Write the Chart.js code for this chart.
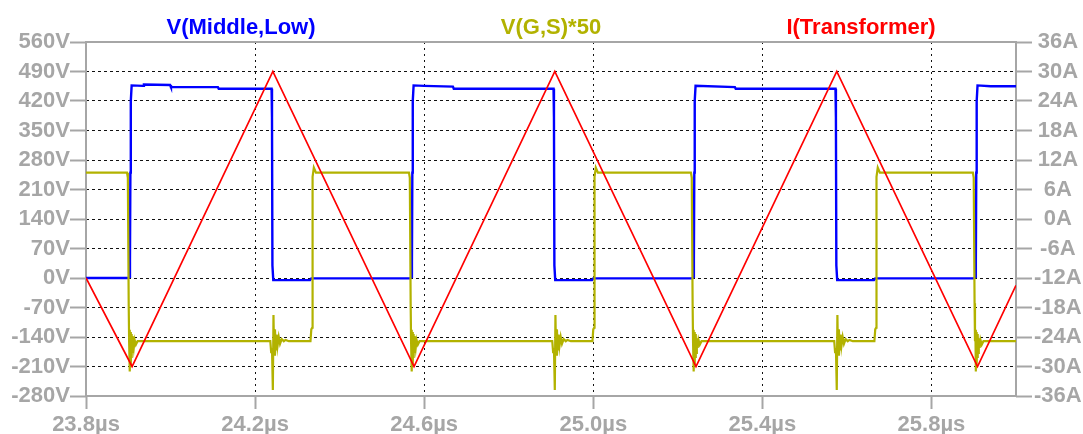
<!DOCTYPE html>
<html>
<head>
<meta charset="utf-8">
<script src="https://cdn.jsdelivr.net/npm/chart.js@4/dist/chart.umd.min.js"></script>
<style>
    html, body { margin: 0; padding: 0; background: #ffffff; }
</style>
</head>
<body>
<canvas id="scope" width="1083" height="434"></canvas>
<script>
/* trace names and colours */
var seriesNames = ["V(Middle,Low)", "V(G,S)*50", "I(Transformer)"];
var seriesColors = ["rgb(0,0,255)", "rgb(178,178,0)", "rgb(255,0,0)"];

/* axis ticks */
var xTicks = [23.8, 24.2, 24.6, 25.0, 25.4, 25.8];
var vTicks = [560, 490, 420, 350, 280, 210, 140, 70, 0, -70, -140, -210, -280];
var iTicks = [36, 30, 24, 18, 12, 6, 0, -6, -12, -18, -24, -30, -36];

/* V(Middle,Low) in V, time in us */
var midT = [23.800, 23.900, 23.903, 23.904, 23.905, 23.906, 23.908, 23.935, 23.937, 23.999, 24.001, 24.112, 24.114, 24.239, 24.240, 24.241, 24.243, 24.330, 24.333,
            24.567, 24.570, 24.571, 24.572, 24.573, 24.575, 24.600, 24.668, 24.670, 24.906, 24.907, 24.908, 24.910, 24.997, 25.000,
            25.234, 25.237, 25.238, 25.239, 25.240, 25.242, 25.335, 25.337, 25.573, 25.574, 25.575, 25.577, 25.664, 25.667,
            25.901, 25.904, 25.905, 25.906, 25.907, 25.909, 25.940, 26.000];
var midV = [0, 0, 3, 40, 250, 420, 457, 456, 459, 458, 453, 453, 449, 449, 380, 30, -5, -5, -1,
            -1, 3, 40, 250, 420, 457, 456, 454, 449, 449, 380, 30, -5, -5, -1,
            -1, 3, 40, 250, 420, 456, 453, 449, 449, 380, 30, -5, -5, -1,
            -1, 3, 40, 250, 420, 457, 455, 455];

/* V(G,S)*50 in V */
var gateT = [23.800, 23.897, 23.899, 23.901, 23.902, 23.903, 23.904, 23.905, 23.906, 23.907, 23.908, 23.909, 23.910, 23.911, 23.913, 23.915, 23.918, 23.922,
             24.236, 24.238, 24.240, 24.242, 24.2435, 24.245, 24.247, 24.249, 24.251, 24.253, 24.256, 24.259, 24.263, 24.268, 24.272, 24.280,
             24.331, 24.333, 24.335, 24.336, 24.339, 24.344,
             24.564, 24.566, 24.568, 24.569, 24.570, 24.571, 24.572, 24.573, 24.574, 24.575, 24.576, 24.577, 24.578, 24.580, 24.582, 24.585, 24.589,
             24.903, 24.905, 24.907, 24.909, 24.9105, 24.912, 24.914, 24.916, 24.918, 24.920, 24.923, 24.926, 24.930, 24.935, 24.939, 24.947,
             24.998, 25.000, 25.002, 25.003, 25.006, 25.011,
             25.231, 25.233, 25.235, 25.236, 25.237, 25.238, 25.239, 25.240, 25.241, 25.242, 25.243, 25.244, 25.245, 25.247, 25.249, 25.252, 25.256,
             25.570, 25.572, 25.574, 25.576, 25.5775, 25.579, 25.581, 25.583, 25.585, 25.587, 25.590, 25.593, 25.597, 25.602, 25.606, 25.614,
             25.665, 25.667, 25.669, 25.670, 25.673, 25.678,
             25.898, 25.900, 25.902, 25.903, 25.904, 25.905, 25.906, 25.907, 25.908, 25.909, 25.910, 25.911, 25.912, 25.914, 25.916, 25.919, 25.923, 26.000];
var gateV = [250, 250, 238, -60, -150, -123, -222, -128, -205, -133, -190, -138, -178, -143, -166, -147, -158, -150,
             -150, -176, -166, -266, -88, -182, -122, -172, -134, -162, -140, -156, -145, -150, -147, -150,
             -150, -122, -118, 240, 262, 250,
             250, 238, -60, -150, -123, -222, -128, -205, -133, -190, -138, -178, -143, -166, -147, -158, -150,
             -150, -176, -166, -266, -88, -182, -122, -172, -134, -162, -140, -156, -145, -150, -147, -150,
             -150, -122, -118, 240, 262, 250,
             250, 238, -60, -150, -123, -222, -128, -205, -133, -190, -138, -178, -143, -166, -147, -158, -150,
             -150, -176, -166, -266, -88, -182, -122, -172, -134, -162, -140, -156, -145, -150, -147, -150,
             -150, -122, -118, 240, 262, 250,
             250, 238, -60, -150, -123, -222, -128, -205, -133, -190, -138, -178, -143, -166, -147, -158, -150, -150];

/* I(Transformer) in A */
var currT = [23.800, 23.909, 24.242, 24.576, 24.909, 25.243, 25.576, 25.909, 26.000];
var currI = [-12, -30, 30, -30, 30, -30, 30, -30, -13.5];

var axisGray = "rgb(166,166,166)";
var labelFont = { family: '"Liberation Sans", Arial, sans-serif', size: 22, weight: "bold" };

function toPoints(ts, vs) {
    var pts = [];
    for (var i = 0; i < ts.length; ++i) {
        pts.push({ x: ts[i], y: vs[i] });
    }
    return pts;
}

function setTicks(values) {
    return function (scale) {
        scale.ticks = values.map(function (v) { return { value: v }; });
    };
}

/* grey frame round the plot, under the traces */
var framePlugin = {
    id: "frame",
    beforeDatasetsDraw: function (chart) {
        var a = chart.chartArea;
        var ctx = chart.ctx;
        ctx.save();
        ctx.strokeStyle = axisGray;
        ctx.lineWidth = 2;
        ctx.strokeRect(a.left, a.top, a.right - a.left, a.bottom - a.top);
        ctx.restore();
    }
};

/* trace names above the plot, in trace colours */
var namesPlugin = {
    id: "names",
    afterDraw: function (chart) {
        var a = chart.chartArea;
        var ctx = chart.ctx;
        var w = a.right - a.left;
        ctx.save();
        ctx.font = "bold 22px \"Liberation Sans\", Arial, sans-serif";
        ctx.textAlign = "center";
        ctx.textBaseline = "middle";
        for (var i = 0; i < seriesNames.length; ++i) {
            ctx.fillStyle = seriesColors[i];
            ctx.fillText(seriesNames[i], a.left + w * (2 * i + 1) / 6, 28);
        }
        ctx.restore();
    }
};

var ctx = document.getElementById("scope");
var scopeChart = new Chart(ctx, {
    type: "line",
    data: {
        datasets: [{
            label: seriesNames[2],
            data: toPoints(currT, currI),
            yAxisID: "yI",
            borderColor: seriesColors[2],
            borderWidth: 1.7
        }, {
            label: seriesNames[1],
            data: toPoints(gateT, gateV),
            yAxisID: "y",
            borderColor: seriesColors[1],
            borderWidth: 2.2
        }, {
            label: seriesNames[0],
            data: toPoints(midT, midV),
            yAxisID: "y",
            borderColor: seriesColors[0],
            borderWidth: 2.4
        }]
    },
    options: {
        responsive: false,
        animation: false,
        layout: { padding: { top: 42 } },
        elements: {
            point: { radius: 0 },
            line: { tension: 0, borderJoinStyle: "miter" }
        },
        plugins: {
            legend: { display: false },
            title: { display: false },
            tooltip: { enabled: false }
        },
        scales: {
            x: {
                type: "linear",
                min: 23.8,
                max: 26.0,
                afterBuildTicks: setTicks(xTicks),
                afterFit: function (scale) { scale.height = 38; },
                ticks: {
                    color: axisGray,
                    font: labelFont,
                    padding: 3,
                    maxRotation: 0,
                    autoSkip: false,
                    callback: function (v) { return v.toFixed(1) + "µs"; }
                },
                grid: {
                    color: function (c) { return c.index === 0 ? "rgba(0,0,0,0)" : "#111"; },
                    lineWidth: 1,
                    tickLength: 13,
                    tickColor: axisGray,
                    tickWidth: 2
                },
                border: { display: false, dash: [2, 4] }
            },
            y: {
                position: "left",
                min: -280,
                max: 560,
                afterBuildTicks: setTicks(vTicks),
                afterFit: function (scale) { scale.width = 86; },
                ticks: {
                    color: axisGray,
                    font: labelFont,
                    padding: 0,
                    callback: function (v) { return v + "V"; }
                },
                grid: {
                    color: function (c) {
                        return (c.tick && (c.tick.value === 560 || c.tick.value === -280)) ? "rgba(0,0,0,0)" : "#111";
                    },
                    lineWidth: 1,
                    tickLength: 16,
                    tickColor: axisGray,
                    tickWidth: 2
                },
                border: { display: false, dash: [3, 3] }
            },
            yI: {
                position: "right",
                min: -36,
                max: 36,
                afterBuildTicks: setTicks(iTicks),
                afterFit: function (scale) { scale.width = 67; },
                ticks: {
                    color: axisGray,
                    font: labelFont,
                    padding: 2,
                    crossAlign: "center",
                    callback: function (v) { return v + "A"; }
                },
                grid: {
                    drawOnChartArea: false,
                    tickLength: 16,
                    tickColor: axisGray,
                    tickWidth: 2
                },
                border: { display: false }
            }
        }
    },
    plugins: [framePlugin, namesPlugin]
});
</script>
</body>
</html>
